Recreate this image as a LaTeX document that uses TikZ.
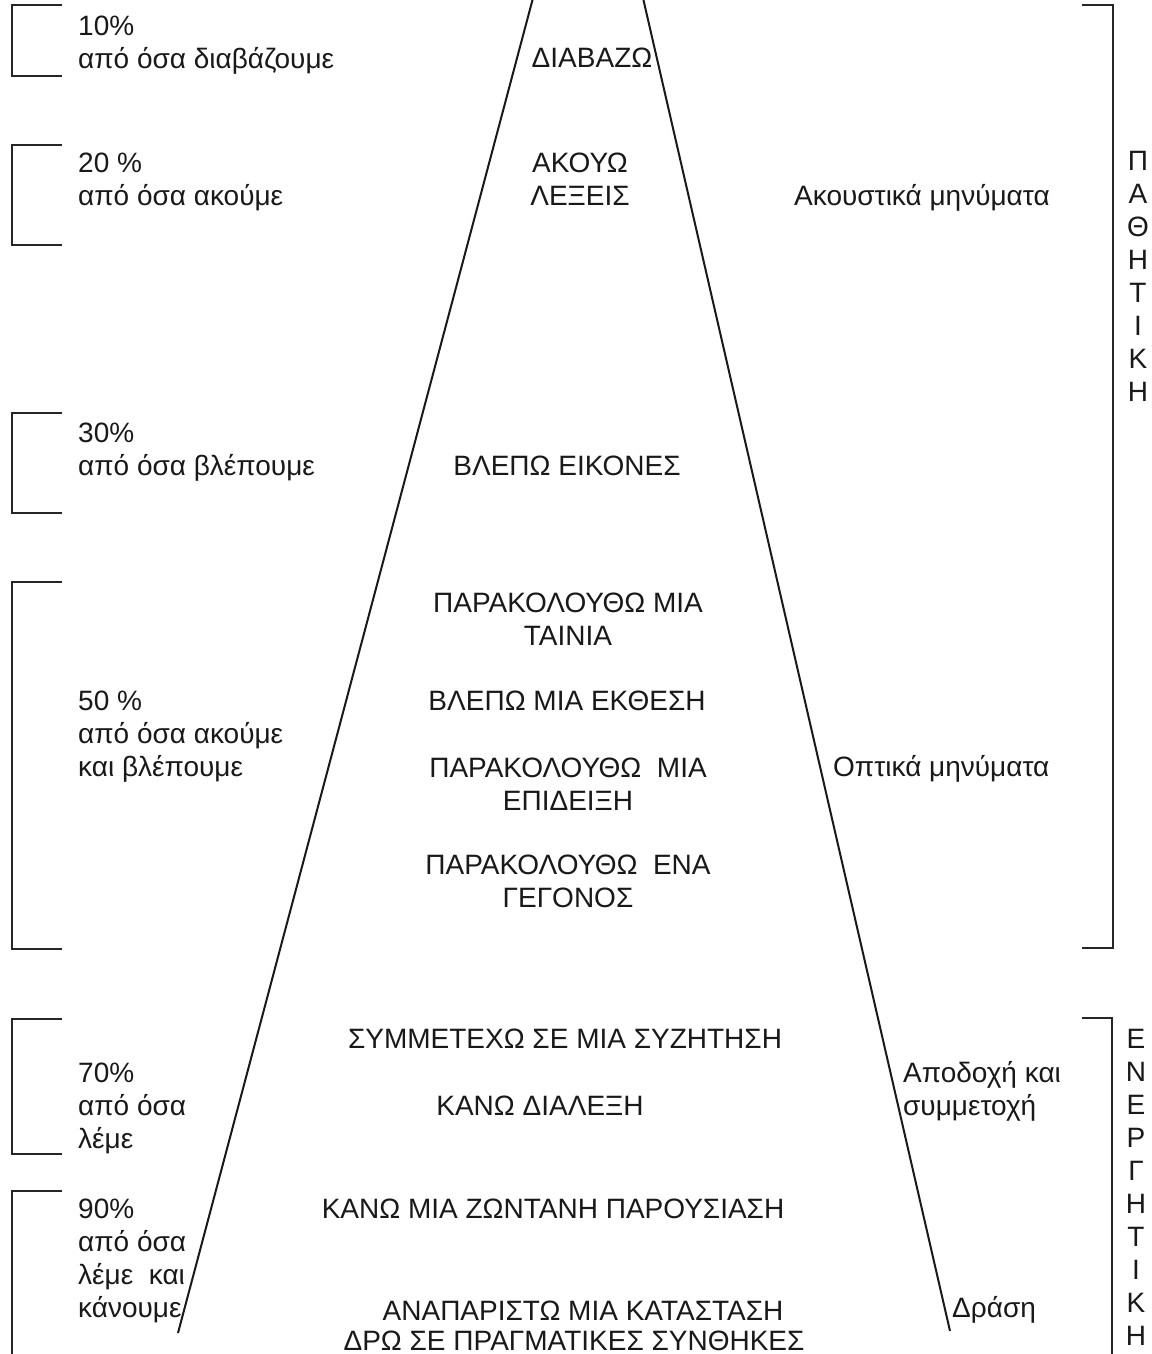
\documentclass[tikz,border=0pt]{standalone}
\usepackage{fontspec}
\setmainfont{Liberation Sans}
\begin{document}
\begin{tikzpicture}[x=1pt,y=-1pt,
  txt/.style={inner sep=0pt, font=\fontsize{28}{33}\selectfont, text=black!90},
  lft/.style={txt, anchor=base west, align=left},
  mid/.style={txt, anchor=base, align=center},
  vert/.style={txt, anchor=base, align=center},
  brk/.style={line width=2pt, black!85},
  edge/.style={line width=2pt, black!90}]
\useasboundingbox[fill=white] (0,0) rectangle (1151,1354);

% pyramid sides
\coordinate (LT) at (533,-2);
\coordinate (LB) at (178,1333);
\coordinate (RT) at (643,-2);
\coordinate (RB) at (950,1331);
\draw[edge] (LT) -- (LB);
\draw[edge] (RT) -- (RB);

% left brackets
\draw[brk] (62,5) -- (12,5) -- (12,76) -- (62,76);
\draw[brk] (62,145) -- (12,145) -- (12,245) -- (62,245);
\draw[brk] (62,413) -- (12,413) -- (12,513) -- (62,513);
\draw[brk] (62,582) -- (12,582) -- (12,949) -- (62,949);
\draw[brk] (62,1019) -- (12,1019) -- (12,1154) -- (62,1154);
\draw[brk] (62,1191) -- (12,1191) -- (12,1356);

% right brackets
\draw[brk] (1082,5) -- (1113,5) -- (1113,948) -- (1082,948);
\draw[brk] (1082,1018) -- (1112,1018) -- (1112,1356);

% left labels (anchor = baseline of last line)
\node[lft] (p10) at (78,69) {10\%\\από όσα διαβάζουμε};
\node[lft] (p20) at (78,205) {20 \%\\από όσα ακούμε};
\node[lft] (p30) at (78,475) {30\%\\από όσα βλέπουμε};
\node[lft] (p50) at (78,776) {50 \%\\από όσα ακούμε\\και βλέπουμε};
\node[lft] (p70) at (78,1148) {70\%\\από όσα\\λέμε};
\node[lft] (p90) at (78,1317) {90\%\\από όσα\\λέμε\ \ και\\κάνουμε};

% centre labels
\node[mid] (c1) at (592,67) {ΔΙΑΒΑΖΩ};
\node[mid] (c2) at (580,205) {ΑΚΟΥΩ\\ΛΕΞΕΙΣ};
\node[mid] (c3) at (567,475) {ΒΛΕΠΩ ΕΙΚΟΝΕΣ};
\node[mid] (c4) at (568,645) {ΠΑΡΑΚΟΛΟΥΘΩ ΜΙΑ\\ΤΑΙΝΙΑ};
\node[mid] (c5) at (567,710) {ΒΛΕΠΩ ΜΙΑ ΕΚΘΕΣΗ};
\node[mid] (c6) at (568,810) {ΠΑΡΑΚΟΛΟΥΘΩ\ \ ΜΙΑ\\ΕΠΙΔΕΙΞΗ};
\node[mid] (c7) at (568,907) {ΠΑΡΑΚΟΛΟΥΘΩ\ \ ΕΝΑ\\ΓΕΓΟΝΟΣ};
\node[mid] (c8) at (565,1048) {ΣΥΜΜΕΤΕΧΩ ΣΕ ΜΙΑ ΣΥΖΗΤΗΣΗ};
\node[mid] (c9) at (540,1115) {ΚΑΝΩ ΔΙΑΛΕΞΗ};
\node[mid] (c10) at (553,1218) {ΚΑΝΩ ΜΙΑ ΖΩΝΤΑΝΗ ΠΑΡΟΥΣΙΑΣΗ};
\node[mid] (c11) at (583,1320) {ΑΝΑΠΑΡΙΣΤΩ ΜΙΑ ΚΑΤΑΣΤΑΣΗ};
\node[mid] (c12) at (574,1350) {ΔΡΩ ΣΕ ΠΡΑΓΜΑΤΙΚΕΣ ΣΥΝΘΗΚΕΣ};

% right labels
\node[mid] (r1) at (922,205) {Ακουστικά μηνύματα};
\node[lft] (r2) at (833,776) {Οπτικά μηνύματα};
\node[lft] (r3) at (903,1115) {Αποδοχή και\\συμμετοχή};
\node[lft] (r4) at (952,1317) {Δράση};

% vertical words
\node[vert] (pas) at (1138,401) {Π\\Α\\Θ\\Η\\Τ\\Ι\\Κ\\Η};
\node[vert] (act) at (1136,1345) {Ε\\Ν\\Ε\\Ρ\\Γ\\Η\\Τ\\Ι\\Κ\\Η};
\end{tikzpicture}
\end{document}
